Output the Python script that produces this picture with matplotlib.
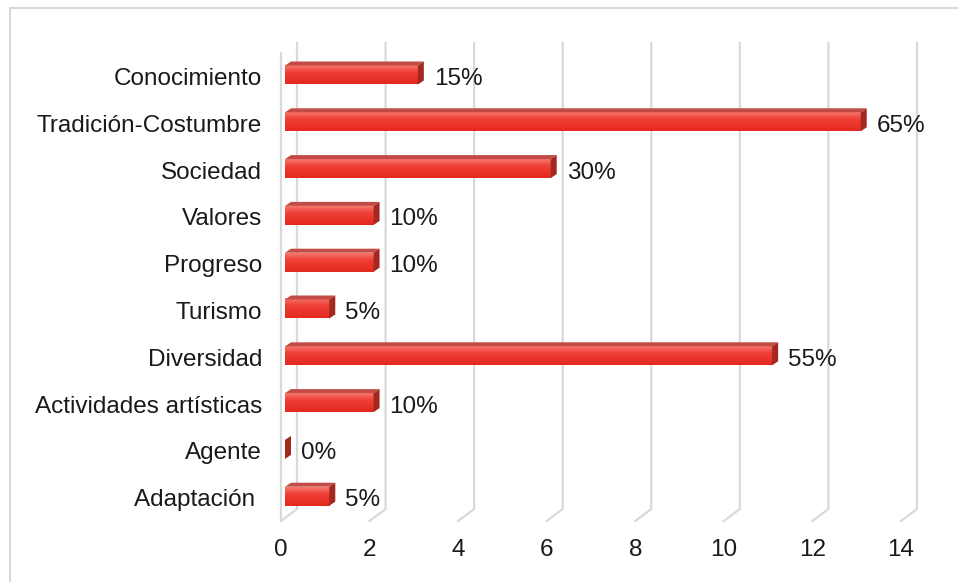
import numpy as np
import matplotlib
matplotlib.use("Agg")
import matplotlib.pyplot as plt
import matplotlib.patches as patches
from matplotlib.lines import Line2D
from matplotlib.colors import to_rgb

# data
categories = ["Conocimiento", "Tradición-Costumbre", "Sociedad", "Valores", "Progreso",
              "Turismo", "Diversidad", "Actividades artísticas", "Agente", "Adaptación "]
counts = [3, 13, 6, 2, 2, 1, 11, 2, 0, 1]
percents = ["15%", "65%", "30%", "10%", "10%", "5%", "55%", "10%", "0%", "5%"]
xticks = [0, 2, 4, 6, 8, 10, 12, 14]

plt.rcParams['font.family'] = ['Liberation Sans', 'DejaVu Sans']

W, H = 958, 582
fig = plt.figure(figsize=(W / 100, H / 100), dpi=100)

# axes in pixels: front x=0 at 281, x=14 at 901; top 43, front floor 521
left, right, top, bottom = 281, 901, 43, 521
ax = fig.add_axes([left / W, 1 - bottom / H, (right - left) / W, (bottom - top) / H])

ystep = 46.8  # px between categories
yc0 = 75      # px of first category centre
ytop = (top - yc0) / ystep
ybot = (bottom - yc0) / ystep
ax.set_xlim(0, 14)
ax.set_ylim(ybot, ytop)

pxx = (right - left) / 14.0   # px per x unit
pxy = ystep                   # px per category unit

grid_c = "#d9d9d9"
gdx, gdy = 16 / pxx, 12 / pxy   # depth of the floor/walls

# back wall gridlines + floor slants
for v in xticks:
    ax.add_line(Line2D([v + gdx, v + gdx, v], [ytop, ybot - gdy, ybot], color=grid_c,
                       lw=1.6, clip_on=False, zorder=1))
# left wall front edge
ax.add_line(Line2D([0, 0], [ytop + 10 / pxy, ybot], color=grid_c, lw=1.6, clip_on=False, zorder=1))

# bars
shift = 4 / pxx          # bars sit slightly behind the front plane
bh = 19 / pxy            # front face height
bdx, bdy = 6 / pxx, 4 / pxy
grad_top = np.array(to_rgb("#f6776d"))
grad_mid = np.array(to_rgb("#ef4037"))
grad_bot = np.array(to_rgb("#e3281f"))
n = 40
t = np.linspace(0, 1, n)
grad = np.array([grad_top + (grad_mid - grad_top) * (tt / 0.35) if tt < 0.35
                 else grad_mid + (grad_bot - grad_mid) * ((tt - 0.35) / 0.65) for tt in t])
grad = grad[:, None, :]

for i, (v, p) in enumerate(zip(counts, percents)):
    x0 = shift
    x1 = v + shift
    y_up = i - bh / 2
    y_dn = i + bh / 2
    if v > 0:
        ax.imshow(grad, extent=[x0, x1, y_dn, y_up], aspect='auto', zorder=3,
                  interpolation='bilinear')
        top_face = patches.Polygon([[x0, y_up], [x1, y_up], [x1 + bdx, y_up - bdy], [x0 + bdx, y_up - bdy]],
                                   closed=True, fc="#c24c45", ec="none", zorder=3)
        ax.add_patch(top_face)
    side = patches.Polygon([[x1, y_up], [x1 + bdx, y_up - bdy], [x1 + bdx, y_dn - bdy], [x1, y_dn]],
                           closed=True, fc="#a3281f", ec="none", zorder=3)
    ax.add_patch(side)
    ax.annotate(p, xy=(x1 + bdx, i), xytext=(10, -4), textcoords='offset pixels',
                ha='left', va='center', fontsize=17.5, color="#1a1a1a", zorder=4)
    # category label
    ax.annotate(categories[i], xy=(0, i), xycoords=('axes fraction', 'data'),
                xytext=(-19, -4), textcoords='offset pixels',
                ha='right', va='center', fontsize=17.5, color="#1a1a1a")

ax.set_xlim(0, 14)
ax.set_ylim(ybot, ytop)
ax.set_yticks([])
ax.set_xticks(xticks)
ax.set_xticklabels([str(v) for v in xticks], fontsize=17.5, color="#1a1a1a")
ax.tick_params(axis='x', length=0, pad=13)
for s in ax.spines.values():
    s.set_visible(False)
ax.patch.set_alpha(0)

# chart area border
fig.add_artist(Line2D([10 / W, 10 / W, 1], [0, 1 - 8 / H, 1 - 8 / H], transform=fig.transFigure,
                      color="#d9d9d9", lw=1.5))

fig.savefig("out.png", dpi=100)
